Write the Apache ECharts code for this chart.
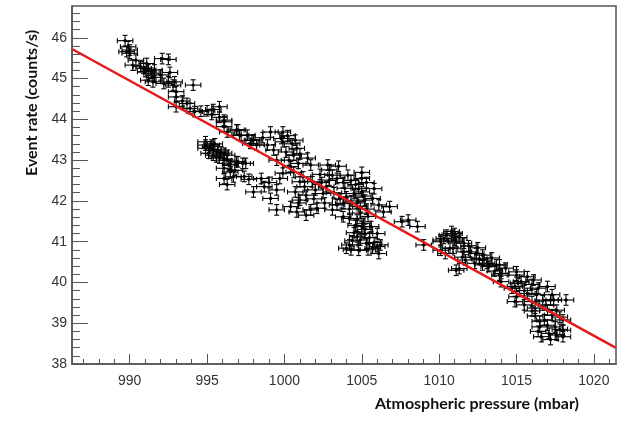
<!DOCTYPE html>
<html>
<head>
<meta charset="utf-8">
<script src="https://cdn.jsdelivr.net/npm/echarts@6/dist/echarts.min.js"></script>
<style>
html, body { margin: 0; padding: 0; background: #fff; }
#chart { width: 626px; height: 421px; }
</style>
</head>
<body>
<div id="chart"></div>
<script>
// measured points (mbar, counts/s)
const pressure = [
  989.7, 989.9, 990.0, 990.0, 989.8, 990.2, 990.7, 990.9, 991.1, 991.0,
  991.2, 991.4, 991.6, 992.1, 992.5, 992.0, 991.2, 991.5, 992.2, 992.5,
  992.9, 992.8, 993.0, 993.0, 994.1, 993.0, 993.7, 994.2, 993.9, 995.0,
  995.4, 995.3, 995.8, 996.1, 996.1, 996.9, 997.1, 997.6, 998.0, 997.8,
  998.9, 999.1, 994.9, 995.1, 995.4, 995.6, 995.9, 996.1, 996.3, 996.9,
  997.3, 995.3, 996.1, 996.3, 997.0, 997.2, 997.9, 998.2, 999.9, 999.9,
  999.8, 1000.7, 1000.8, 1000.6, 1000.1, 1000.3, 1000.4, 999.9, 1000.9, 1001.7,
  1001.2, 1001.0, 1001.3, 1001.8, 1002.0, 1001.4, 1001.0, 1000.7, 1002.1, 1001.7,
  1001.4, 1000.8, 1000.4, 999.5, 999.1, 999.5, 998.7, 998.0, 998.5, 999.7,
  994.9, 995.2, 995.7, 996.1, 995.4, 996.3, 997.0, 997.5, 996.1, 996.5,
  996.1, 996.7, 997.7, 1002.8, 1002.9, 1003.1, 1002.9, 1003.4, 1004.1, 1003.9,
  1004.0, 1003.8, 1004.5, 1005.0, 1005.0, 1005.2, 1004.9, 1005.7, 1006.1, 1003.8,
  1003.1, 1002.5, 1002.7, 1004.7, 1005.0, 1005.2, 1004.9, 1005.3, 1006.0, 1005.7,
  1006.1, 1004.2, 1004.8, 1005.6, 1006.8, 1006.4, 1007.6, 1008.0, 1008.6, 1009.0,
  1010.1, 1010.5, 1011.0, 1011.0, 1010.7, 1011.6, 1011.1, 1012.0, 1012.4, 1012.9,
  1013.2, 1013.7, 1013.9, 1015.0, 1015.1, 1014.7, 1010.1, 1011.7, 1012.3, 1005.1,
  1004.7, 1006.0, 1004.0, 1004.2, 1010.1, 1010.9, 1011.1, 1010.9, 1010.4, 1011.3,
  1011.6, 1012.8, 1013.1, 1012.8, 1013.9, 1014.0, 1014.0, 1015.0, 1014.9, 1015.0,
  1014.9, 1015.7, 1016.1, 1015.7, 1016.0, 1016.2, 1016.4, 1017.0, 1017.2, 1017.0,
  1017.3, 1016.8, 1017.1, 1017.6, 1018.0, 1018.0, 1018.0, 1017.6, 1017.4, 1017.5,
  1018.2, 1016.5, 1016.6,
  1004.6, 1004.8, 1005.1, 1004.7, 1005.3, 1004.9, 1005.4, 1004.6, 1005.2, 1004.5,
  1005.5, 1004.4, 1005.8, 1004.3, 1005.4, 1006.2, 1005.0, 1005.3, 1004.3, 1005.8,
  1003.5, 1003.8, 1004.3, 1003.2, 1003.6, 1004.2, 1003.4,
  1000.2, 1000.5, 1001.0, 1001.5, 1000.6, 1002.3, 1002.4, 1001.9, 1002.6, 1000.9,
  998.6, 999.3, 999.5, 999.0,
  994.9, 995.5, 995.8, 996.5, 996.8, 997.4, 996.3,
  990.4, 991.6, 992.6, 993.4, 994.6, 995.8,
  1010.3, 1010.8, 1011.3, 1011.9, 1012.5, 1011.5, 1012.6, 1013.4, 1013.6, 1014.3,
  1015.3, 1015.5, 1016.0, 1016.3, 1016.7, 1016.2, 1016.9, 1017.3, 1016.5, 1017.0,
  1017.8, 1017.2, 1016.4, 1017.8, 1015.5, 1016.0
];
const rate = [
  45.93, 45.78, 45.70, 45.62, 45.66, 45.33, 45.29, 45.25, 45.37, 45.17,
  45.21, 45.13, 45.21, 45.49, 45.47, 45.09, 44.96, 44.92, 44.88, 44.92,
  44.92, 44.84, 44.68, 44.55, 44.84, 44.31, 44.39, 44.19, 44.27, 44.21,
  44.24, 44.12, 44.31, 43.98, 43.82, 43.74, 43.61, 43.61, 43.49, 43.41,
  43.37, 43.69, 43.29, 43.17, 43.25, 43.08, 43.20, 43.00, 43.12, 42.96,
  42.92, 43.37, 43.94, 43.69, 43.74, 43.61, 43.49, 43.37, 43.69, 43.45,
  43.53, 43.49, 43.29, 43.12, 43.20, 43.00, 42.84, 42.68, 42.92, 42.88,
  42.59, 42.47, 42.35, 42.47, 42.27, 42.14, 42.02, 42.22, 41.82, 41.78,
  41.65, 41.73, 41.86, 41.78, 42.06, 42.27, 42.35, 42.22, 42.55, 42.55,
  43.37, 43.33, 43.25, 43.17, 43.12, 43.00, 42.96, 42.92, 42.80, 42.71,
  42.55, 42.59, 42.53, 42.88, 42.76, 42.63, 42.51, 42.55, 42.63, 42.31,
  42.10, 41.94, 42.18, 42.55, 42.22, 42.02, 41.86, 42.06, 41.90, 41.61,
  41.78, 42.18, 42.35, 41.53, 41.37, 41.20, 41.04, 40.96, 41.20, 40.84,
  40.71, 40.92, 40.79, 41.37, 41.86, 41.73, 41.49, 41.53, 41.37, 40.92,
  41.04, 41.16, 41.20, 41.04, 40.84, 40.96, 40.30, 40.75, 40.71, 40.55,
  40.39, 40.43, 40.18, 40.18, 39.98, 39.86, 40.79, 40.55, 40.47, 41.45,
  41.12, 40.88, 40.84, 41.57, 41.00, 41.16, 41.00, 40.84, 40.71, 40.34,
  40.75, 40.67, 40.47, 40.43, 40.43, 40.22, 40.02, 40.26, 39.90, 39.65,
  39.53, 40.14, 40.06, 39.73, 39.53, 39.37, 39.86, 39.90, 39.57, 39.32,
  39.20, 39.08, 38.75, 38.71, 38.83, 38.67, 39.08, 39.32, 39.57, 38.91,
  39.57, 38.91, 38.67,
  42.40, 42.30, 42.12, 41.95, 41.80, 41.70, 41.62, 41.40, 41.30, 41.22,
  41.10, 41.02, 40.98, 40.80, 40.80, 40.92, 42.70, 42.45, 42.50, 42.30,
  42.85, 42.45, 42.00, 42.20, 42.05, 41.80, 41.90,
  43.60, 43.40, 43.15, 43.05, 42.70, 42.65, 42.45, 42.05, 41.95, 41.95,
  43.55, 43.25, 43.00, 42.45,
  43.45, 43.40, 43.05, 42.90, 42.75, 42.60, 42.40,
  45.45, 45.03, 45.15, 44.45, 44.20, 44.05,
  41.08, 41.25, 41.10, 40.90, 40.85, 40.62, 40.58, 40.60, 40.28, 40.35,
  40.02, 39.80, 39.95, 39.70, 39.55, 39.18, 39.45, 39.70, 39.05, 38.95,
  39.15, 38.60, 38.80, 38.85, 39.45, 39.30
];
const pressureErr = 0.5;
const rateErr = 0.13;

// linear fit end points
const fitPressure = [986.3, 1021.4];
const fitRate = [45.72, 38.40];

const xMin = 986.27, xMax = 1021.43;
const yMin = 38, yMax = 46.78;
const xTicks = [990, 995, 1000, 1005, 1010, 1015, 1020];
const yTicks = [38, 39, 40, 41, 42, 43, 44, 45, 46];

const xMinorTicks = [];
for (let v = 987; v <= 1021; v++) xMinorTicks.push(v);
const yMinorTicks = [];
for (let i = 1; i < 44; i++) yMinorTicks.push(Math.round((38 + i * 0.2) * 10) / 10);

const axisColor = '#555';

const chart = echarts.init(document.getElementById('chart'));

chart.setOption({
  animation: false,
  grid: {
    left: 72, right: 10, top: 6, bottom: 57,
    show: true, borderColor: axisColor, borderWidth: 1.5
  },
  xAxis: [
    {
      type: 'value', min: xMin, max: xMax, position: 'bottom',
      axisLine: { lineStyle: { color: axisColor, width: 1.5 } },
      axisTick: { inside: true, length: 10, customValues: xTicks, lineStyle: { color: axisColor } },
      axisLabel: {
        customValues: xTicks, margin: 10,
        fontFamily: 'Liberation Sans', fontSize: 14, color: '#333',
        formatter: v => String(v)
      },
      splitLine: { show: false }
    },
    {
      type: 'value', min: xMin, max: xMax, position: 'bottom',
      axisLine: { show: false },
      axisTick: { inside: true, length: 5, customValues: xMinorTicks, lineStyle: { color: axisColor } },
      axisLabel: { show: false },
      splitLine: { show: false }
    }
  ],
  yAxis: [
    {
      type: 'value', min: yMin, max: yMax, position: 'left',
      axisLine: { show: true, lineStyle: { color: axisColor, width: 1.5 } },
      axisTick: { show: true, inside: true, length: 16, customValues: yTicks, lineStyle: { color: axisColor } },
      axisLabel: {
        customValues: yTicks, margin: 5,
        fontFamily: 'Liberation Sans', fontSize: 14, color: '#333',
        formatter: v => String(v)
      },
      splitLine: { show: false }
    },
    {
      type: 'value', min: yMin, max: yMax, position: 'left',
      axisLine: { show: false },
      axisTick: { show: true, inside: true, length: 8, customValues: yMinorTicks, lineStyle: { color: axisColor } },
      axisLabel: { show: false },
      splitLine: { show: false }
    }
  ],
  graphic: [
    {
      type: 'text', x: 579, y: 404,
      style: {
        text: 'Atmospheric pressure (mbar)', fill: '#111',
        font: 'bold 16px Lato', textAlign: 'right', textVerticalAlign: 'middle'
      }
    },
    {
      type: 'text', x: 32, y: 103, rotation: Math.PI / 2,
      style: {
        text: 'Event rate (counts/s)', fill: '#111',
        font: 'bold 16px Lato', textAlign: 'center', textVerticalAlign: 'middle'
      }
    }
  ],
  series: [
    {
      type: 'custom',
      xAxisIndex: 0,
      yAxisIndex: 0,
      clip: true,
      data: pressure.map((p, i) => [p, rate[i]]),
      renderItem: function (params, api) {
        const p = api.value(0);
        const r = api.value(1);
        const c = api.coord([p, r]);
        const lo = api.coord([p - pressureErr, r]);
        const hi = api.coord([p + pressureErr, r]);
        const up = api.coord([p, r + rateErr]);
        const dn = api.coord([p, r - rateErr]);
        const cap = 2.5;
        const style = { stroke: '#000', lineWidth: 1.1 };
        return {
          type: 'group',
          children: [
            { type: 'line', shape: { x1: lo[0], y1: c[1], x2: hi[0], y2: c[1] }, style: style },
            { type: 'line', shape: { x1: c[0], y1: up[1], x2: c[0], y2: dn[1] }, style: style },
            { type: 'line', shape: { x1: lo[0], y1: c[1] - cap, x2: lo[0], y2: c[1] + cap }, style: style },
            { type: 'line', shape: { x1: hi[0], y1: c[1] - cap, x2: hi[0], y2: c[1] + cap }, style: style },
            { type: 'line', shape: { x1: c[0] - cap, y1: up[1], x2: c[0] + cap, y2: up[1] }, style: style },
            { type: 'line', shape: { x1: c[0] - cap, y1: dn[1], x2: c[0] + cap, y2: dn[1] }, style: style },
            { type: 'circle', shape: { cx: c[0], cy: c[1], r: 1.7 }, style: { fill: '#000' } }
          ]
        };
      }
    },
    {
      type: 'line',
      xAxisIndex: 0,
      yAxisIndex: 0,
      data: fitPressure.map((p, i) => [p, fitRate[i]]),
      symbol: 'none',
      z: 5,
      lineStyle: { color: '#e3191c', width: 2.5 }
    }
  ]
});
</script>
</body>
</html>
